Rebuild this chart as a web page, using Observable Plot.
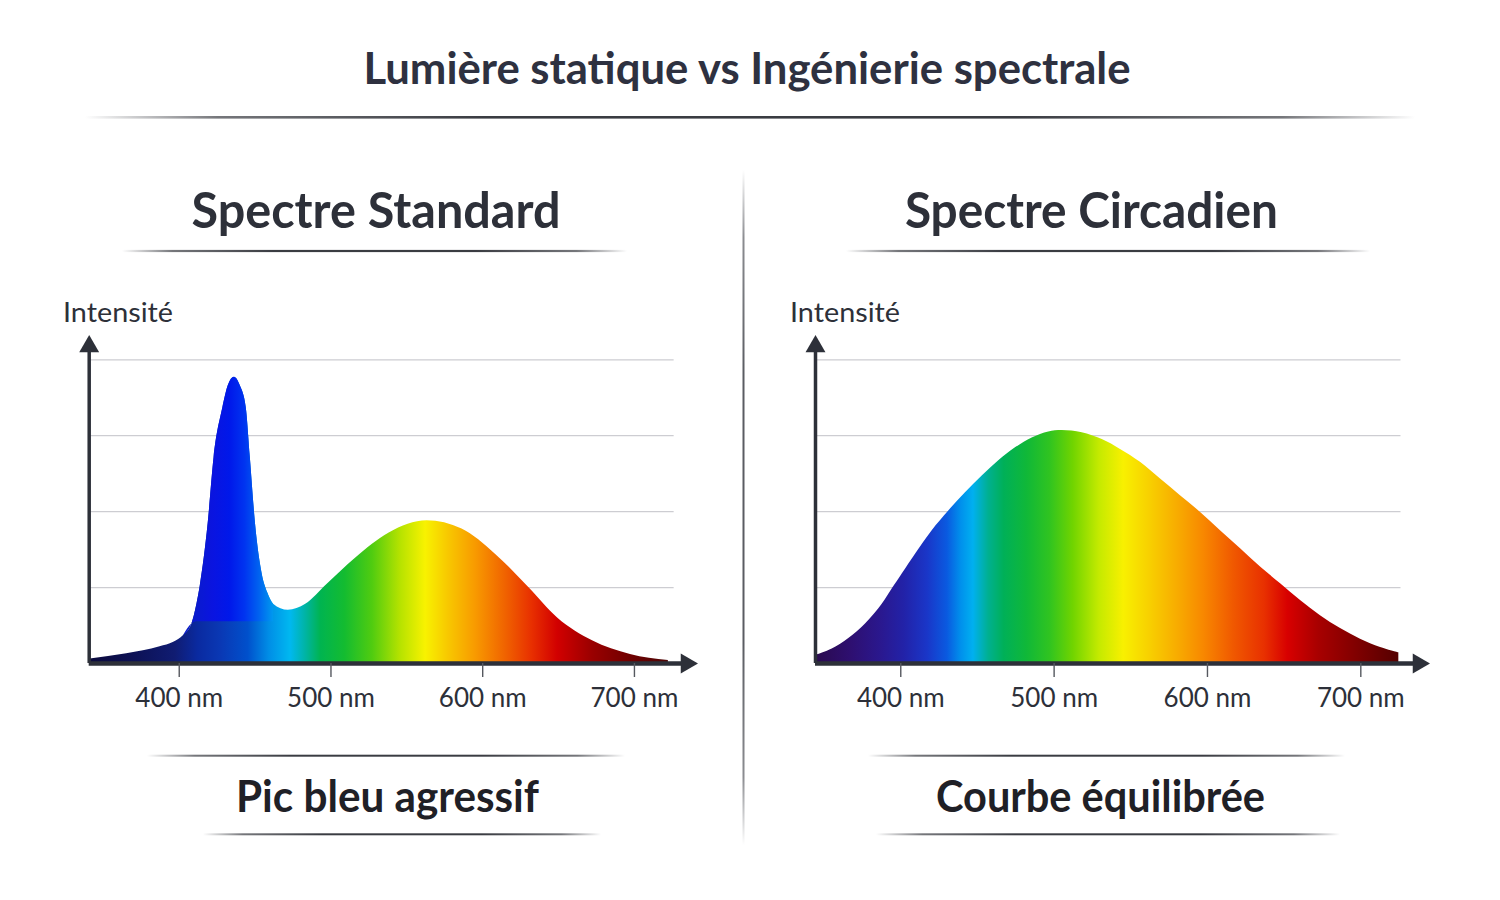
<!DOCTYPE html>
<html>
<head>
<meta charset="utf-8">
<script src="https://cdn.jsdelivr.net/npm/d3@7"></script>
<script src="https://cdn.jsdelivr.net/npm/@observablehq/plot@0.6"></script>
<style>
  html, body { margin: 0; padding: 0; background: #fff; }
  body { width: 1500px; height: 900px; position: relative; overflow: hidden; font-family: Lato, "Open Sans", sans-serif; }
  .panel { position: absolute; }
  #overlay { position: absolute; left: 0; top: 0; pointer-events: none; }
</style>
</head>
<body>
<div id="left" class="panel" style="left:0px; top:280px; width:740px;"></div>
<div id="right" class="panel" style="left:745px; top:280px; width:720px;"></div>
<svg id="overlay" width="1500" height="900"></svg>
<script>
// ---------------- DATA ----------------
const title = "Lumière statique vs Ingénierie spectrale";
const panelTitles = ["Spectre Standard", "Spectre Circadien"];
const panelCaptions = ["Pic bleu agressif", "Courbe équilibrée"];
const yLabel = "Intensité";
const xTicks = [400, 500, 600, 700];
const tickUnit = "nm";
const gridLevels = [1, 2, 3, 4];

// Spectre Standard (LED) : longueur d'onde (nm) et intensité relative
const standardWl = [344, 368, 390, 399, 405.5, 411, 414.3, 416.5, 421.7, 425.6, 431.4, 435, 439, 442.8, 446.8, 449.5, 452.9, 457.3, 461, 464.8, 474.5, 486, 500, 519, 541, 566, 589, 611, 633, 652, 675, 700, 725];
const standardI  = [0.06, 0.13, 0.22, 0.28, 0.37, 0.52, 0.78, 1.02, 1.84, 2.71, 3.37, 3.66, 3.77, 3.66, 3.37, 2.71, 1.84, 1.18, 0.93, 0.78, 0.70, 0.78, 1.04, 1.39, 1.72, 1.88, 1.77, 1.44, 1.00, 0.60, 0.30, 0.12, 0.04];

// Spectre Circadien : longueur d'onde (nm) et intensité relative
const circadianWl = [347, 357.9, 368.7, 379.6, 390.5, 397, 401.3, 412.2, 423.1, 433.9, 444.8, 455.7, 466.5, 477.4, 488.3, 499.1, 507.9, 520.9, 534, 545.9, 558.9, 572, 585, 598.1, 611.1, 624.2, 637.2, 650.3, 663.3, 676.3, 689.4, 702.4, 715.5, 727.4];
const circadianI  = [0.105, 0.19, 0.33, 0.52, 0.78, 0.98, 1.11, 1.44, 1.75, 2.01, 2.25, 2.47, 2.67, 2.84, 2.97, 3.05, 3.07, 3.04, 2.95, 2.82, 2.65, 2.43, 2.21, 1.99, 1.75, 1.51, 1.27, 1.05, 0.83, 0.63, 0.46, 0.32, 0.21, 0.14];

// ---------------- STYLE (gradients) ----------------
const standardStops = [
  [344, "#0b0a3c"], [375, "#0d1257"], [400, "#101c72"], [415, "#0a2aa0"], [430, "#0a38b4"],
  [448, "#0050cc"], [462, "#008ee6"], [476, "#00b8f0"], [486, "#00b4a4"], [496, "#00b450"],
  [512, "#14bc30"], [530, "#50cc10"], [548, "#b4e200"], [565, "#f8f200"], [580, "#f8c800"],
  [598, "#f89a00"], [618, "#f06200"], [635, "#e83000"], [652, "#d20000"], [675, "#9a0000"],
  [700, "#700000"], [725, "#4c0606"]
];
const peakStops = [
  [410, "#0a1cc8"], [425, "#0a14e0"], [436, "#0018ea"], [446, "#0034f0"], [455, "#0060f0"], [466, "#00a0ee"]
];
const circadianStops = [
  [347, "#2a0a4e"], [370, "#2e0f70"], [390, "#2a188f"], [405, "#2222a8"], [420, "#1a36c8"],
  [433, "#0a5ae0"], [442, "#0090ec"], [450, "#00b0f0"], [460, "#00b090"], [470, "#00b058"],
  [485, "#10b838"], [500, "#30c420"], [515, "#70d400"], [532, "#c4ea00"], [548, "#f8f000"],
  [565, "#f8d000"], [585, "#f8a800"], [600, "#f88800"], [620, "#f05800"], [640, "#e83000"],
  [655, "#d80000"], [675, "#a80000"], [700, "#800000"], [729, "#520000"]
];

const ns = "http://www.w3.org/2000/svg";
function el(tag, attrs, parent) {
  const e = document.createElementNS(ns, tag);
  for (const k in attrs) e.setAttribute(k, attrs[k]);
  if (parent) parent.appendChild(e);
  return e;
}

const AXIS = "#2d3039";

function makePanel({container, width, marginLeft, marginRight, xDomain, gridEnd, data, stops, gradId, overlay, curve}) {
  const [xMin, xMax] = xDomain;
  const yMax = 4.32;
  const marks = [
    Plot.ruleY(gridLevels, {x1: () => xMin, x2: () => gridEnd, stroke: "#cdcdd2", strokeWidth: 1.3}),
    Plot.areaY(data, {x: "w", y: "v", fill: `url(#${gradId})`, curve})
  ];
  if (overlay) {
    marks.push(Plot.areaY(data.filter(d => d.w >= 405 && d.w <= 466), {
      x: "w", y1: d => Math.min(d.v, 0.55), y2: "v", fill: `url(#${gradId}p)`, curve
    }));
  }
  marks.push(
    Plot.ruleY([0], {x1: () => xMin, x2: () => xMax - 6, stroke: AXIS, strokeWidth: 4.5}),
    Plot.ruleX([xMin], {y1: () => 0, y2: () => yMax - 0.08, stroke: AXIS, strokeWidth: 3.5}),
    Plot.dot([0], {x: () => xMax, y: () => 0, symbol: "triangle", rotate: 90, r: 7.4, fill: AXIS, stroke: "none", dx: -11}),
    Plot.dot([0], {x: () => xMin, y: () => yMax, symbol: "triangle", r: 7.4, fill: AXIS, stroke: "none", dy: 11}),
    Plot.axisX(xTicks, {
      label: null,
      tickSize: 14, tickPadding: 11.5, tickFormat: d => `${d} ${tickUnit}`,
      fontSize: 26, fontFamily: "Lato", stroke: "#55585f", strokeWidth: 1.4, fill: "#2d3039", dx: 4
    })
  );
  const chart = Plot.plot({
    width, height: 460,
    marginLeft, marginRight, marginTop: 55, marginBottom: 77,
    style: {background: "transparent", fontFamily: "Lato", overflow: "visible"},
    x: {domain: xDomain, label: null},
    y: {domain: [0, yMax], axis: null},
    marks
  });
  const sx = chart.scale("x");
  const defs = el("defs", {});
  const addGrad = (id, st) => {
    const g = el("linearGradient", {
      id, gradientUnits: "userSpaceOnUse",
      x1: sx.apply(st[0][0]), x2: sx.apply(st[st.length - 1][0]), y1: 0, y2: 0
    }, defs);
    const w0 = st[0][0], w1 = st[st.length - 1][0];
    st.forEach(([w, c]) => el("stop", {offset: (w - w0) / (w1 - w0), "stop-color": c}, g));
  };
  addGrad(gradId, stops);
  if (overlay) addGrad(gradId + "p", overlay);
  chart.insertBefore(defs, chart.firstChild);
  document.getElementById(container).appendChild(chart);
}

const standardData = standardWl.map((w, i) => ({w, v: standardI[i]}));
const circadianData = circadianWl.map((w, i) => ({w, v: circadianI[i]}));

makePanel({container: "left", width: 740, marginLeft: 88.7, marginRight: 43,
  xDomain: [343.3, 744.2], gridEnd: 728.8, data: standardData, stops: standardStops, gradId: "gStd",
  overlay: peakStops, curve: "monotone-x"});
makePanel({container: "right", width: 720, marginLeft: 70, marginRight: 36,
  xDomain: [347, 747.4], gridEnd: 728.8, data: circadianData, stops: circadianStops, gradId: "gCirc",
  overlay: null, curve: "catmull-rom"});

// ---------------- OVERLAY (titles, rules) ----------------
const ov = document.getElementById("overlay");
const odefs = el("defs", {}, ov);
function fade(id, vertical, color, op) {
  const g = el("linearGradient", {id, x1: 0, y1: 0, x2: vertical ? 0 : 1, y2: vertical ? 1 : 0}, odefs);
  [[0, 0], [0.1, op * 0.7], [0.3, op], [0.7, op], [0.9, op * 0.7], [1, 0]].forEach(([o, a]) =>
    el("stop", {offset: o, "stop-color": color, "stop-opacity": a}, g));
}
fade("fadeH", false, "#3a3c42", 1);
fade("fadeV", true, "#5a5c62", 1);

function rule(x1, x2, y, h) { el("rect", {x: x1, y: y - h / 2, width: x2 - x1, height: h, fill: "url(#fadeH)"}, ov); }
function label(txt, x, y, size, weight, fill, len, anchor) {
  const t = el("text", {x, y, "font-size": size, "font-weight": weight, fill, "text-anchor": anchor || "middle",
    "font-family": "Lato, 'Open Sans', sans-serif", textLength: len, lengthAdjust: "spacingAndGlyphs"}, ov);
  t.textContent = txt;
}

label(title, 747, 84, 44, 700, "#2e3140", 767);
rule(85, 1415, 117.3, 2.6);

label(panelTitles[0], 376, 228, 50, 700, "#2d3039", 369);
label(panelTitles[1], 1091.4, 228, 50, 700, "#2d3039", 373);
rule(122, 627, 251, 2.2);
rule(846, 1370, 251, 2.2);

label(yLabel, 63, 321.7, 26, 400, "#2d3039", 110, "start");
label(yLabel, 790, 321.7, 26, 400, "#2d3039", 110, "start");

rule(147, 625, 755.7, 2);
rule(868, 1345, 755.7, 2);
label(panelCaptions[0], 387.5, 811.7, 43, 700, "#1f2026", 303);
label(panelCaptions[1], 1100.5, 811.7, 43, 700, "#1f2026", 329);
rule(203, 601, 834.3, 2);
rule(876, 1340, 834.3, 2);

el("rect", {x: 742.5, y: 170, width: 2, height: 675, fill: "url(#fadeV)"}, ov);
</script>
</body>
</html>
